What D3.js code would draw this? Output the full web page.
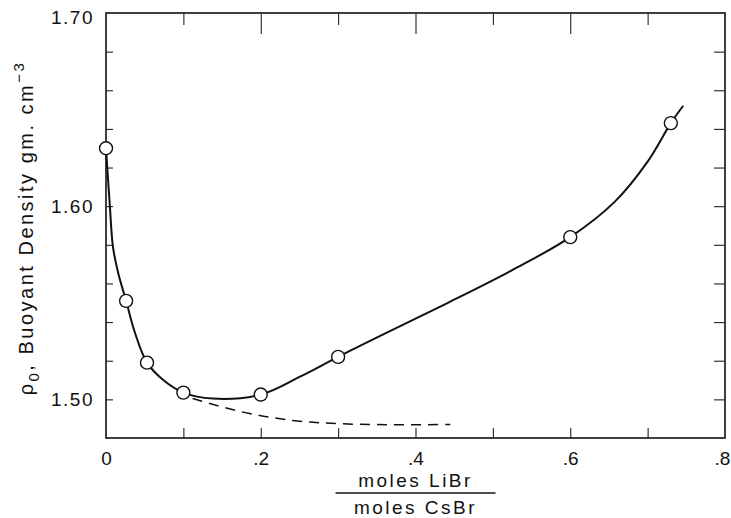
<!DOCTYPE html>
<html>
<head>
<meta charset="utf-8">
<script src="https://cdn.jsdelivr.net/npm/d3@7"></script>
<style>
  body { margin: 0; background: #fff; }
  svg text { font-family: 'Liberation Sans', 'DejaVu Sans', sans-serif; fill: #111; }
</style>
</head>
<body>
<div id="chart"></div>
<script>
// measured points (open circles)
const ratioX = [0, 0.026, 0.053, 0.10, 0.20, 0.30, 0.60, 0.73];
const densityY = [1.630, 1.551, 1.519, 1.5035, 1.5025, 1.522, 1.584, 1.643];

// hand-drawn smooth curve through the points
const curveX = [0, 0.005, 0.009, 0.016, 0.026, 0.037, 0.053, 0.074, 0.10, 0.138, 0.20, 0.25, 0.30, 0.353, 0.44, 0.526, 0.60, 0.657, 0.70, 0.73, 0.746];
const curveY = [1.630, 1.600, 1.579, 1.565, 1.551, 1.535, 1.519, 1.510, 1.5035, 1.5004, 1.5025, 1.5116, 1.522, 1.5326, 1.5496, 1.5671, 1.584, 1.6021, 1.6231, 1.643, 1.652];

// dashed extrapolation
const dashX = [0.112, 0.177, 0.241, 0.301, 0.37, 0.445];
const dashY = [1.5004, 1.4934, 1.4891, 1.4874, 1.4869, 1.4870];

const xLabelTicks = [0, 0.2, 0.4, 0.6, 0.8];
const xLabelText = ['0', '.2', '.4', '.6', '.8'];
const yLabelTicks = [1.50, 1.60, 1.70];
const yLabelText = ['1.50', '1.60', '1.70'];
const xMinorTicks = [0.1, 0.2, 0.3, 0.4, 0.5, 0.6, 0.7];
const yMinorTicks = [1.50, 1.52, 1.54, 1.56, 1.58, 1.60, 1.62, 1.64, 1.66, 1.68];

const width = 731;
const height = 518;
const m = { left: 106, right: 725, top: 13, bottom: 438 };

const svg = d3.select('#chart')
  .append('svg')
  .attr('width', width)
  .attr('height', height);

const x = d3.scaleLinear().domain([0, 0.8]).range([m.left, m.right]);
const y = d3.scaleLinear().domain([1.48, 1.70]).range([m.bottom, m.top]);

// frame
svg.append('rect')
  .attr('x', m.left)
  .attr('y', m.top)
  .attr('width', m.right - m.left)
  .attr('height', m.bottom - m.top)
  .attr('fill', 'none')
  .attr('stroke', '#111')
  .attr('stroke-width', 1.6);

// inward ticks
const tickStyle = (g) => {
  g.select('.domain').remove();
  g.selectAll('line').attr('stroke', '#222').attr('stroke-width', 1.1);
  g.selectAll('text').remove();
};

svg.append('g')
  .attr('transform', `translate(0,${m.bottom})`)
  .call(d3.axisTop(x).tickValues(xMinorTicks).tickSize(10))
  .call(tickStyle);

svg.append('g')
  .attr('transform', `translate(0,${m.top})`)
  .call(d3.axisBottom(x).tickValues([0.1, 0.3, 0.5, 0.7]).tickSize(12))
  .call(tickStyle);

svg.append('g')
  .attr('transform', `translate(0,${m.top})`)
  .call(d3.axisBottom(x).tickValues([0.2, 0.4, 0.6]).tickSize(21))
  .call(tickStyle);

svg.append('g')
  .attr('transform', `translate(${m.left},0)`)
  .call(d3.axisRight(y).tickValues(yMinorTicks).tickSize(7))
  .call(tickStyle);

svg.append('g')
  .attr('transform', `translate(${m.right},0)`)
  .call(d3.axisLeft(y).tickValues(yMinorTicks).tickSize(11))
  .call(tickStyle);

// tick labels
const xt = svg.append('g')
  .attr('transform', `translate(0,${m.bottom})`)
  .call(d3.axisBottom(x).tickValues(xLabelTicks).tickSize(0).tickPadding(14)
    .tickFormat((d, i) => xLabelText[i]))
  .call((g) => g.select('.domain').remove());
xt.selectAll('text')
  .attr('font-size', 19)
  .style('font-family', "'Liberation Sans', sans-serif");
xt.selectAll('text').filter((d) => d === 0.8).attr('dx', -3);

const yt = svg.append('g')
  .attr('transform', `translate(${m.left},0)`)
  .call(d3.axisLeft(y).tickValues(yLabelTicks).tickSize(0).tickPadding(12)
    .tickFormat((d, i) => yLabelText[i]))
  .call((g) => g.select('.domain').remove());
yt.selectAll('text')
  .attr('font-size', 19)
  .style('font-family', "'Liberation Sans', sans-serif")
  .attr('letter-spacing', 1.5);
yt.selectAll('text').filter((d) => d === 1.70).attr('y', 4);

// curves
const curveData = curveX.map((v, i) => ({ x: v, y: curveY[i] }));
const dashData = dashX.map((v, i) => ({ x: v, y: dashY[i] }));
const pointData = ratioX.map((v, i) => ({ x: v, y: densityY[i] }));

const line = d3.line()
  .x((d) => x(d.x))
  .y((d) => y(d.y))
  .curve(d3.curveCatmullRom.alpha(0.5));

svg.append('path')
  .datum(curveData)
  .attr('fill', 'none')
  .attr('stroke', '#111')
  .attr('stroke-width', 2)
  .attr('d', line);

svg.append('path')
  .datum(dashData)
  .attr('fill', 'none')
  .attr('stroke', '#111')
  .attr('stroke-width', 1.5)
  .attr('stroke-dasharray', '10,7')
  .attr('d', line);

svg.selectAll('.pt')
  .data(pointData)
  .enter()
  .append('circle')
  .attr('class', 'pt')
  .attr('cx', (d) => x(d.x))
  .attr('cy', (d) => y(d.y))
  .attr('r', 6.5)
  .attr('fill', '#fff')
  .attr('stroke', '#111')
  .attr('stroke-width', 1.4);

// axis titles
const ylab = svg.append('text')
  .attr('transform', 'translate(33,228) rotate(-90)')
  .attr('text-anchor', 'middle')
  .attr('font-size', 20)
  .attr('letter-spacing', 2.5);
ylab.append('tspan').text('ρ');
ylab.append('tspan').attr('font-size', 15).attr('dy', 6).text('0');
ylab.append('tspan').attr('dy', -6).text(',  Buoyant  Density  gm. cm');
ylab.append('tspan').attr('font-size', 15).attr('dy', -9).text('−3');

const cx = x(0.4);
svg.append('text')
  .attr('x', cx)
  .attr('y', 487)
  .attr('text-anchor', 'middle')
  .attr('font-size', 19)
  .attr('letter-spacing', 2.5)
  .text('moles LiBr');

svg.append('line')
  .attr('x1', cx - 80)
  .attr('x2', cx + 80)
  .attr('y1', 493)
  .attr('y2', 493)
  .attr('stroke', '#111')
  .attr('stroke-width', 1.5);

svg.append('text')
  .attr('x', cx)
  .attr('y', 514)
  .attr('text-anchor', 'middle')
  .attr('font-size', 19)
  .attr('letter-spacing', 2.5)
  .text('moles CsBr');
</script>
</body>
</html>
